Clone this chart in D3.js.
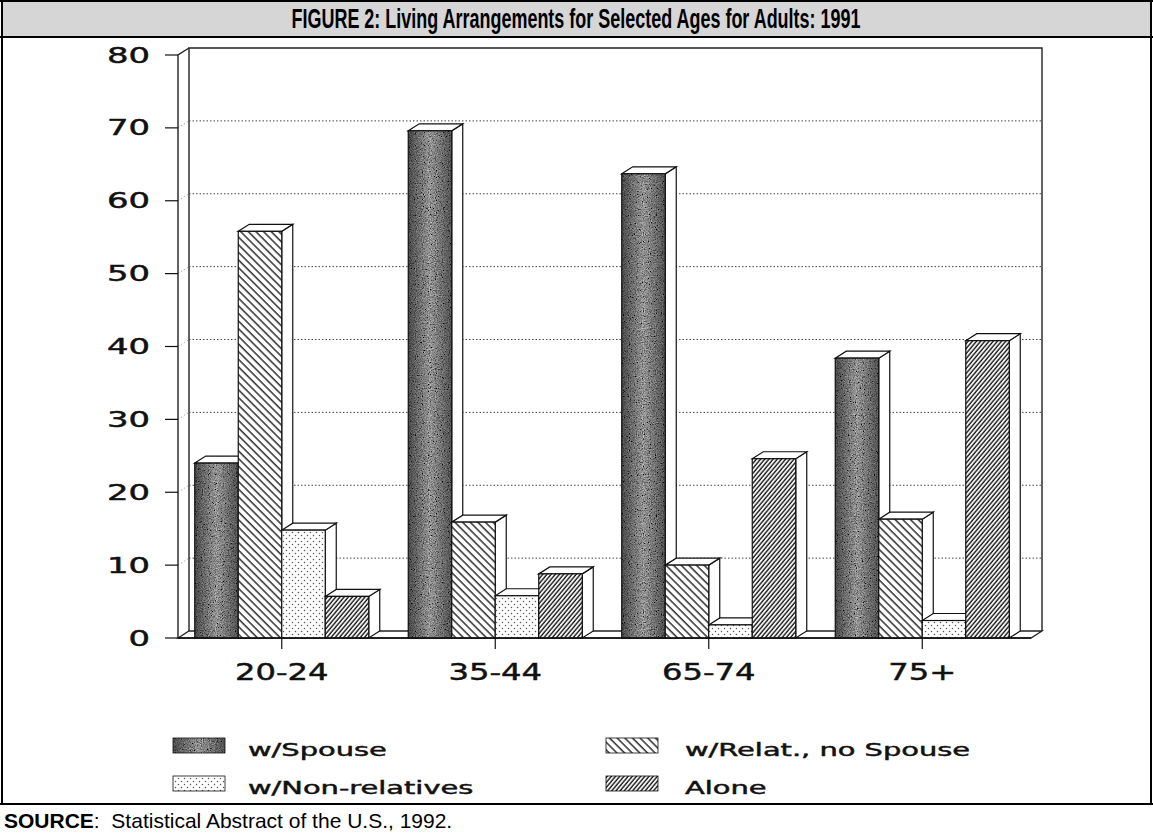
<!DOCTYPE html>
<html>
<head>
<meta charset="utf-8">
<script src="https://cdn.jsdelivr.net/npm/d3@7/dist/d3.min.js"></script>
<style>
  html, body { margin: 0; padding: 0; background: #fff; }
  svg { display: block; }
</style>
</head>
<body>
<div id="chart"></div>
<script>
// ---------------- DATA ----------------
const categories = ["20-24", "35-44", "65-74", "75+"];
const seriesNames = ["w/Spouse", "w/Relat., no Spouse", "w/Non-relatives", "Alone"];
const spouse       = [24.0, 69.6, 63.7, 38.4];
const relatives    = [55.8, 15.9, 10.0, 16.3];
const nonRelatives = [14.8, 5.8, 1.8, 2.4];
const alone        = [5.7, 8.8, 24.6, 40.8];
const yTicks = [0, 10, 20, 30, 40, 50, 60, 70, 80];
const titleText = "FIGURE 2: Living Arrangements for Selected Ages for Adults: 1991";
const sourceLabel = "SOURCE";
const sourceText = ":  Statistical Abstract of the U.S., 1992.";

const seriesValues = [spouse, relatives, nonRelatives, alone];
const keys = ["spouse", "relat", "nonrel", "alone"];

// ---------------- SETUP ----------------
const W = 1153, H = 836;
const svg = d3.select("#chart").append("svg").attr("width", W).attr("height", H);
const defs = svg.append("defs");

// grain filter for the "w/Spouse" fill
const grain = defs.append("filter").attr("id", "grain")
  .attr("x", 0).attr("y", 0).attr("width", 1).attr("height", 1);
grain.append("feTurbulence").attr("type", "fractalNoise").attr("baseFrequency", 0.85)
  .attr("numOctaves", 3).attr("seed", 7).attr("result", "noise");
grain.append("feColorMatrix").attr("in", "noise").attr("type", "matrix")
  .attr("values", "0.33 0.33 0.33 0 0  0.33 0.33 0.33 0 0  0.33 0.33 0.33 0 0  0 0 0 0 1")
  .attr("result", "gray");
const ct = grain.append("feComponentTransfer").attr("in", "gray").attr("result", "dark");
["feFuncR", "feFuncG", "feFuncB"].forEach(f =>
  ct.append(f).attr("type", "linear").attr("slope", 1.7).attr("intercept", -0.55));
grain.append("feComposite").attr("in", "dark").attr("in2", "SourceGraphic").attr("operator", "in");

// edge darkening gradient
const grad = defs.append("linearGradient").attr("id", "edgeShade").attr("x1", 0).attr("x2", 1).attr("y1", 0).attr("y2", 0);
grad.append("stop").attr("offset", "0%").attr("stop-color", "#000").attr("stop-opacity", 0.5);
grad.append("stop").attr("offset", "50%").attr("stop-color", "#000").attr("stop-opacity", 0.0);
grad.append("stop").attr("offset", "100%").attr("stop-color", "#000").attr("stop-opacity", 0.45);

// hatch "\\" for relatives
const pRel = defs.append("pattern").attr("id", "hatchBack").attr("patternUnits", "userSpaceOnUse")
  .attr("width", 5.4).attr("height", 10).attr("patternTransform", "rotate(-45)");
pRel.append("rect").attr("width", 5.4).attr("height", 10).attr("fill", "#fff");
pRel.append("line").attr("x1", 1).attr("x2", 1).attr("y1", 0).attr("y2", 10)
  .attr("stroke", "#111").attr("stroke-width", 1.3);

// hatch "//" for alone
const pAl = defs.append("pattern").attr("id", "hatchFwd").attr("patternUnits", "userSpaceOnUse")
  .attr("width", 3.2).attr("height", 10).attr("patternTransform", "rotate(40)");
pAl.append("rect").attr("width", 3.2).attr("height", 10).attr("fill", "#fff");
pAl.append("line").attr("x1", 1).attr("x2", 1).attr("y1", 0).attr("y2", 10)
  .attr("stroke", "#111").attr("stroke-width", 1.4);

// dots for non-relatives
const pDot = defs.append("pattern").attr("id", "dots").attr("patternUnits", "userSpaceOnUse")
  .attr("width", 6).attr("height", 6);
pDot.append("rect").attr("width", 6).attr("height", 6).attr("fill", "#fff");
pDot.append("circle").attr("cx", 1.5).attr("cy", 1.5).attr("r", 0.75).attr("fill", "#555");
pDot.append("circle").attr("cx", 4.5).attr("cy", 4.5).attr("r", 0.75).attr("fill", "#555");

const fills = { relat: "url(#hatchBack)", nonrel: "url(#dots)", alone: "url(#hatchFwd)" };

function paintFace(g, key, x, y, w, h, sw) {
  const strokeW = sw || 1.2;
  if (key === "spouse") {
    g.append("rect").attr("x", x).attr("y", y).attr("width", w).attr("height", h)
      .attr("fill", "#444").attr("filter", "url(#grain)");
    g.append("rect").attr("x", x).attr("y", y).attr("width", w).attr("height", h)
      .attr("fill", "url(#edgeShade)");
    g.append("rect").attr("x", x).attr("y", y).attr("width", w).attr("height", h)
      .attr("fill", "none").attr("stroke", "#111").attr("stroke-width", strokeW);
  } else {
    g.append("rect").attr("x", x).attr("y", y).attr("width", w).attr("height", h)
      .attr("fill", fills[key]).attr("stroke", "#111").attr("stroke-width", strokeW);
  }
}

// ---------------- FRAME ----------------
svg.append("rect").attr("x", 1).attr("y", 1).attr("width", W - 3).attr("height", 36)
  .attr("fill", "#d6d6d6").attr("stroke", "none");
const frame = svg.append("g").attr("stroke", "#000").attr("stroke-width", 2).attr("fill", "none");
frame.append("line").attr("x1", 0).attr("x2", W).attr("y1", 1).attr("y2", 1);
frame.append("line").attr("x1", 0).attr("x2", W).attr("y1", 37).attr("y2", 37);
frame.append("line").attr("x1", 0).attr("x2", W).attr("y1", 804).attr("y2", 804);
frame.append("line").attr("x1", 2).attr("x2", 2).attr("y1", 0).attr("y2", 804);
frame.append("line").attr("x1", W - 2).attr("x2", W - 2).attr("y1", 0).attr("y2", 804);

svg.append("text").attr("x", 576).attr("y", 28).attr("text-anchor", "middle")
  .attr("font-family", "Liberation Sans, Arial, sans-serif").attr("font-weight", "bold")
  .attr("font-size", 27).attr("textLength", 569).attr("lengthAdjust", "spacingAndGlyphs")
  .text(titleText);

const src = svg.append("text").attr("x", 4).attr("y", 828)
  .attr("font-family", "Liberation Sans, Arial, sans-serif").attr("font-size", 21);
src.append("tspan").attr("font-weight", "bold").text(sourceLabel);
src.append("tspan").attr("xml:space", "preserve").text(sourceText);

// ---------------- SCALES ----------------
const DX = 11, DY = -7;
const y = d3.scaleLinear().domain([0, 80]).range([638, 55]);
const x0 = d3.scaleBand().domain(categories).range([175, 1029]);
const x1 = d3.scaleBand().domain(keys).range([0, x0.bandwidth()]).paddingInner(0).paddingOuter(0.454);
const floorL = 178, floorR = 1031;

const chart = svg.append("g");

// back wall
const wall = chart.append("g").attr("stroke", "#222").attr("stroke-width", 1.4).attr("fill", "none");
wall.append("path").attr("d",
  `M${floorL + DX},${y(0) + DY} L${floorL + DX},${y(80) + DY} L${floorR + DX},${y(80) + DY} L${floorR + DX},${y(0) + DY}`);

// gridlines (dotted, on back wall)
chart.append("g").selectAll("line").data(yTicks.filter(d => d > 0 && d < 80)).join("line")
  .attr("x1", floorL + DX).attr("x2", floorR + DX)
  .attr("y1", d => y(d) + DY).attr("y2", d => y(d) + DY)
  .attr("stroke", "#444").attr("stroke-width", 1).attr("stroke-dasharray", "1.5,2");
chart.append("g").selectAll("line").data(yTicks.filter(d => d > 0 && d < 80)).join("line")
  .attr("x1", floorL).attr("x2", floorL + DX)
  .attr("y1", d => y(d)).attr("y2", d => y(d) + DY)
  .attr("stroke", "#999").attr("stroke-width", 0.8).attr("stroke-dasharray", "1.5,2");

// left wall slab
chart.append("path").attr("d",
  `M${floorL},${y(0)} L${floorL},${y(80)} L${floorL + DX},${y(80) + DY}`)
  .attr("fill", "none").attr("stroke", "#222").attr("stroke-width", 1.4);

// floor
chart.append("path").attr("d",
  `M${floorL},${y(0)} L${floorR},${y(0)} L${floorR + DX},${y(0) + DY} L${floorL + DX},${y(0) + DY} Z`)
  .attr("fill", "#fff").attr("stroke", "#222").attr("stroke-width", 1.3);

// bars
const bars = chart.append("g");
categories.forEach((cat, ci) => {
  keys.forEach((key, si) => {
    const v = seriesValues[si][ci];
    const bx = x0(cat) + x1(key);
    const bw = x1.bandwidth();
    const top = y(v), base = y(0);
    const g = bars.append("g");
    g.append("path").attr("d",
      `M${bx + bw},${base} L${bx + bw},${top} L${bx + bw + DX},${top + DY} L${bx + bw + DX},${base + DY} Z`)
      .attr("fill", "#fff").attr("stroke", "#111").attr("stroke-width", 1.2);
    g.append("path").attr("d",
      `M${bx},${top} L${bx + DX},${top + DY} L${bx + bw + DX},${top + DY} L${bx + bw},${top} Z`)
      .attr("fill", "#fff").attr("stroke", "#111").attr("stroke-width", 1.2);
    paintFace(g, key, bx, top, bw, base - top);
  });
});

// front baseline
chart.append("line").attr("x1", floorL).attr("x2", floorR).attr("y1", y(0)).attr("y2", y(0))
  .attr("stroke", "#111").attr("stroke-width", 1.5);

// ---------------- AXES ----------------
function wideText(g, x, yy, txt, size, sx, anchor) {
  return g.append("text").attr("transform", `translate(${x},${yy}) scale(${sx},1)`)
    .attr("text-anchor", anchor).attr("font-family", "DejaVu Sans, Verdana, sans-serif")
    .attr("font-size", size).attr("fill", "#111")
    .attr("stroke", "#111").attr("stroke-width", 0.45).text(txt);
}

const yAxis = chart.append("g");
yAxis.selectAll("line").data(yTicks).join("line")
  .attr("x1", 165).attr("x2", floorL).attr("y1", d => y(d)).attr("y2", d => y(d))
  .attr("stroke", "#111").attr("stroke-width", 1.2);
yTicks.forEach(t => wideText(yAxis, 150, y(t) + 7.5, String(t), 20.5, 1.65, "end"));

const xAxis = chart.append("g");
categories.forEach(c => {
  const cx = x0(c) + x0.bandwidth() / 2;
  xAxis.append("line").attr("x1", cx).attr("x2", cx).attr("y1", y(0)).attr("y2", y(0) + 11)
    .attr("stroke", "#111").attr("stroke-width", 1.2);
  wideText(xAxis, cx, 680, c, 23, 1.4, "middle");
});

// ---------------- LEGEND ----------------
const legend = svg.append("g");
const legendPos = [
  { key: "spouse", name: seriesNames[0], sx: 173, tx: 248, sy: 738, ty: 756 },
  { key: "relat",  name: seriesNames[1], sx: 606, tx: 685, sy: 738, ty: 756 },
  { key: "nonrel", name: seriesNames[2], sx: 173, tx: 248, sy: 776, ty: 794 },
  { key: "alone",  name: seriesNames[3], sx: 606, tx: 685, sy: 776, ty: 794 }
];
legendPos.forEach(p => {
  const g = legend.append("g");
  paintFace(g, p.key, p.sx, p.sy, 52, 15, 0.8);
  wideText(g, p.tx, p.ty, p.name, 17, 1.7, "start");
});
</script>
</body>
</html>
